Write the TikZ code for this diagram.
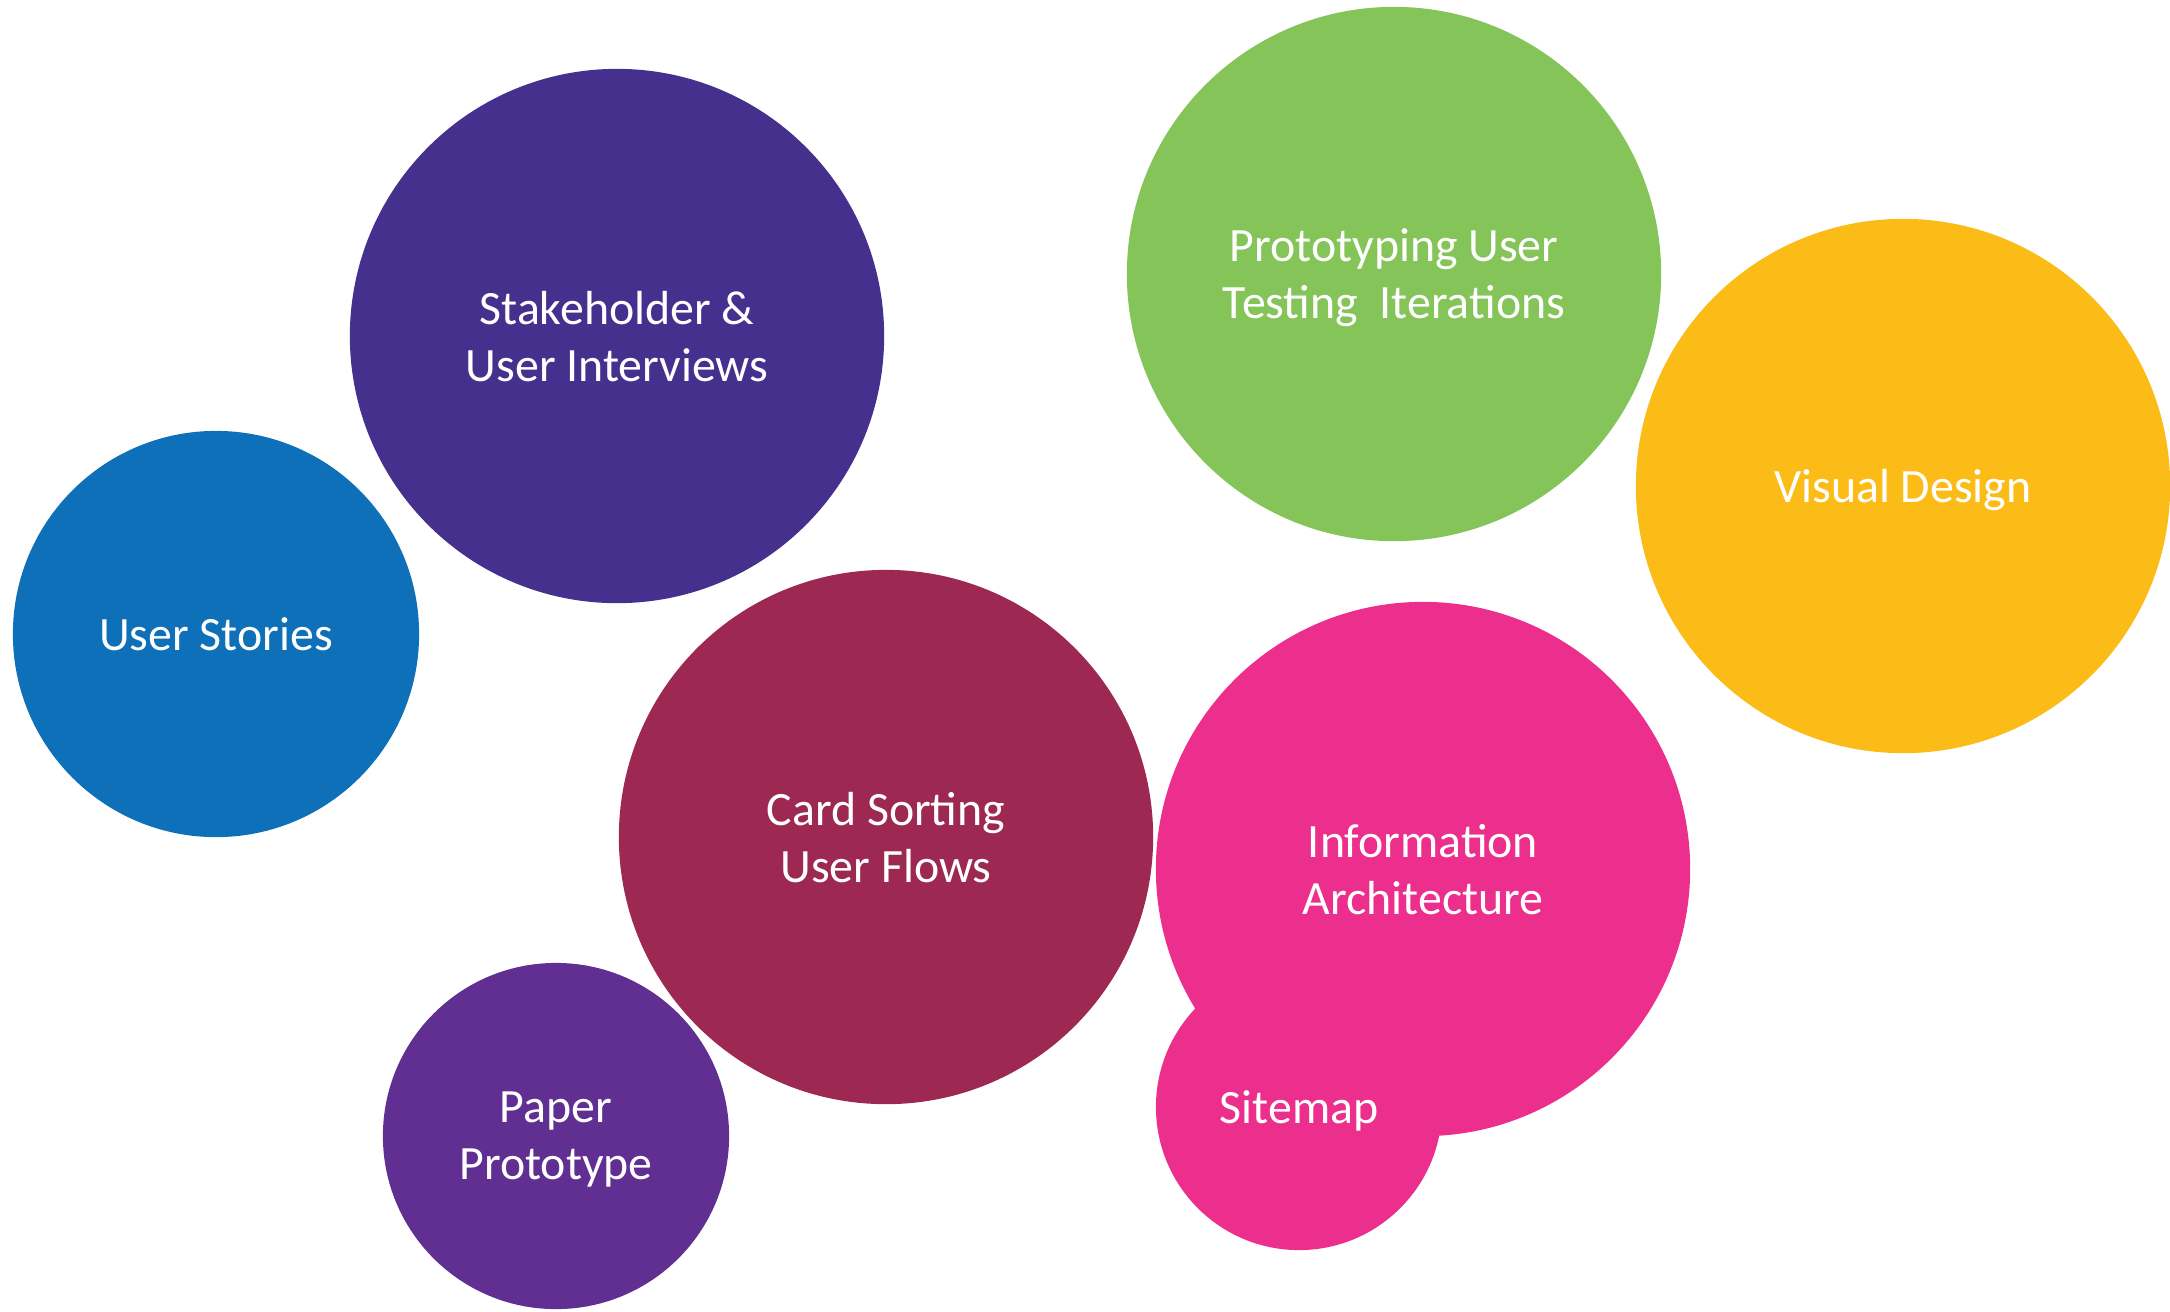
\documentclass[tikz,border=0pt]{standalone}
\usepackage{fontspec}
\setmainfont{Carlito}
\usepackage{xcolor}

\definecolor{stakepurple}{RGB}{70,48,142}
\definecolor{storyblue}{RGB}{13,112,185}
\definecolor{protogreen}{RGB}{133,196,89}
\definecolor{visualyellow}{RGB}{251,188,23}
\definecolor{cardmaroon}{RGB}{157,40,82}
\definecolor{infopink}{RGB}{236,47,140}
\definecolor{paperpurple}{RGB}{96,47,145}

\begin{document}
\begin{tikzpicture}[x=0.01cm, y=-0.01cm,
    bubble/.style={circle, draw=none, inner sep=0pt, text=white, align=center,
        text depth=0pt, font=\fontsize{13.6}{16.2}\selectfont},
    big/.style={bubble, minimum size=5.34cm},
]
  \useasboundingbox (0,0) rectangle (2170,1311);

  \node[big, fill=stakepurple] (stake) at (617,336) {Stakeholder \&\\User Interviews};
  \node[bubble, fill=storyblue, minimum size=4.06cm] (stories) at (216,634) {User Stories};
  \node[big, fill=protogreen] (proto) at (1394,274) {Prototyping User\\Testing\ \ Iterations};
  \node[big, fill=visualyellow] (visual) at (1903,486) {Visual Design};
  \node[big, fill=cardmaroon] (card) at (886,837) {Card Sorting\\User Flows};
  \node[big, fill=infopink] (info) at (1423,869) {Information\\Architecture};
  \node[bubble, fill=infopink, minimum size=2.86cm] (sitemap) at (1299,1107) {Sitemap};
  \node[bubble, fill=paperpurple, minimum size=3.46cm] (paper) at (556,1136) {Paper\\Prototype};
\end{tikzpicture}
\end{document}
